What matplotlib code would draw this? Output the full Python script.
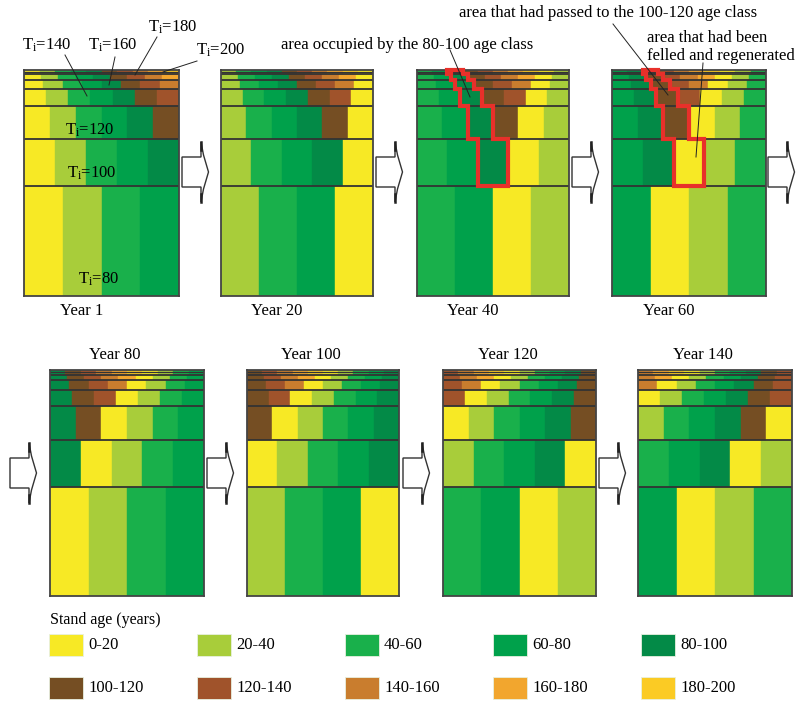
import numpy as np
import matplotlib.pyplot as plt
from matplotlib.patches import Polygon

plt.rcParams['font.family'] = ['Liberation Serif', 'DejaVu Serif']
plt.rcParams['mathtext.default'] = 'regular'

# strips of the forest, bottom to top: rotation period and relative area
rotations = [80, 100, 120, 140, 160, 180, 200]
strip_heights = [109.5, 47, 33.5, 16.5, 9.5, 5.5, 4.5]

years = [1, 20, 40, 60, 80, 100, 120, 140]

age_classes = ['0-20', '20-40', '40-60', '60-80', '80-100',
               '100-120', '120-140', '140-160', '160-180', '180-200']
class_colors = ['#F7E925', '#A8CD3A', '#19B04B', '#00A14B', '#038A47',
                '#754E23', '#A0532B', '#C97D2E', '#F2A62E', '#FBCB24']

# area followed through time (red outline)
outline_years = [40, 60]
outline_col = 2
outline_min_rotation = 100

# panel boxes in pixels (x0, y0, x1, y1)
W, H = 805, 702
panel_boxes = [(24, 69.5, 179, 296), (221, 69.5, 373, 296),
               (417, 69.5, 569, 296), (612, 69.5, 766, 296),
               (50, 370, 204, 596), (247, 370, 399, 596),
               (443, 370, 596, 596), (638, 370, 792, 596)]

fig = plt.figure(figsize=(W / 100, H / 100), dpi=100)

bottoms = np.concatenate([[0], np.cumsum(strip_heights)[:-1]])
total = sum(strip_heights)

for p, year in enumerate(years):
    x0, y0, x1, y1 = panel_boxes[p]
    ax = fig.add_axes([x0 / W, 1 - y1 / H, (x1 - x0) / W, (y1 - y0) / H])
    step = year // 20
    for r, T in enumerate(rotations):
        n = T // 20
        cls = [(j + step) % n for j in range(n)]
        cols = [class_colors[c] for c in cls]
        ax.barh(np.full(n, bottoms[r] + strip_heights[r] / 2), np.full(n, 1 / n),
                left=np.arange(n) / n, height=strip_heights[r], color=cols,
                edgecolor=cols, linewidth=0.3, align='center')
        if r > 0:
            ax.axhline(bottoms[r], color='#333333', lw=1.3)
    # thin extra line inside the top strip
    ax.axhline(bottoms[-1] + strip_heights[-1] / 2, color='#333333', lw=0.9)
    ax.set_xlim(0, 1)
    ax.set_ylim(0, total)
    ax.set_xticks([])
    ax.set_yticks([])
    for s in ax.spines.values():
        s.set_color('#444444')
        s.set_linewidth(1.3)

    if year in outline_years:
        left, right = [], []
        for r, T in enumerate(rotations):
            if T < outline_min_rotation:
                continue
            n = T // 20
            yb, yt = bottoms[r], bottoms[r] + strip_heights[r]
            left += [(outline_col / n, yb), (outline_col / n, yt)]
            right = [((outline_col + 1) / n, yt), ((outline_col + 1) / n, yb)] + right
        ax.add_patch(Polygon(left + right, closed=True, fill=False, edgecolor='#E8302A',
                             lw=3, joinstyle='miter', clip_on=False, zorder=5))

# overlay in pixel coordinates for labels, arrows and legend
ov = fig.add_axes([0, 0, 1, 1])
ov.set_xlim(0, W)
ov.set_ylim(H, 0)
ov.axis('off')

for p, year in enumerate(years):
    x0, y0, x1, y1 = panel_boxes[p]
    cx = (x0 + x1) / 2
    if p < 4:
        ov.text(cx - 20, y1 + 15, 'Year %d' % year, ha='center', va='center', fontsize=12)
    else:
        ov.text(cx - 12, y0 - 15, 'Year %d' % year, ha='center', va='center', fontsize=12)


def block_arrow(x, cy):
    xs = x + 19
    pts = [(x, cy - 15), (xs, cy - 15), (xs, cy - 30), (xs + 2.5, cy - 17),
           (xs + 7.5, cy), (xs + 2.5, cy + 17), (xs, cy + 30), (xs, cy + 15), (x, cy + 15)]
    ov.add_patch(Polygon(pts, closed=True, facecolor='white', edgecolor='#333333', lw=1.0))
    ov.plot([xs, xs], [cy - 30, cy - 22], color='#222222', lw=1.8)
    ov.plot([xs, xs], [cy + 22, cy + 30], color='#222222', lw=1.8)


for ax_x, ax_y in [(182, 172), (376, 172), (572, 172), (768, 172),
                   (10, 473), (207, 473), (403, 473), (599, 473)]:
    block_arrow(ax_x, ax_y)

# rotation labels in the first panel
for txt, pos in [('80', (99, 279)), ('100', (92, 173)), ('120', (90, 130))]:
    ov.text(pos[0], pos[1], '$T_i$=' + txt, ha='center', va='center', fontsize=12)

leaders = [('$T_i$=140', (47, 45), (65, 55), (87, 96)),
           ('$T_i$=160', (113, 45), (115, 57), (109, 85)),
           ('$T_i$=180', (173, 27), (157, 37), (135, 75)),
           ('$T_i$=200', (221, 50), (197, 61), (163, 72))]
for txt, tpos, a, b in leaders:
    ov.text(tpos[0], tpos[1], txt, ha='center', va='center', fontsize=12)
    ov.plot([a[0], b[0]], [a[1], b[1]], color='#222222', lw=0.7)

ov.text(407, 45, 'area occupied by the 80-100 age class', ha='center', va='center', fontsize=12)
ov.plot([450, 470], [50, 97], color='#222222', lw=0.7)
ov.text(608, 13, 'area that had passed to the 100-120 age class', ha='center', va='center', fontsize=12)
ov.plot([613, 668], [24, 95], color='#222222', lw=0.7)
ov.text(647, 47, 'area that had been\nfelled and regenerated', ha='left', va='center',
        fontsize=12, linespacing=1.2)
ov.plot([703, 696], [63, 157], color='#222222', lw=0.7)

# legend
ov.text(50, 620, 'Stand age (years)', ha='left', va='center', fontsize=11.5)
for i, lab in enumerate(age_classes):
    col, row = i % 5, i // 5
    lx = 49 + 148 * col
    ly = 634 + 43 * row
    ov.bar(lx, 22, width=34, bottom=ly, align='edge', color=class_colors[i],
           edgecolor='#e8f0e0', lw=0.6)
    ov.text(lx + 39, ly + 11, lab, ha='left', va='center', fontsize=12)

fig.savefig('out.png', dpi=100)
